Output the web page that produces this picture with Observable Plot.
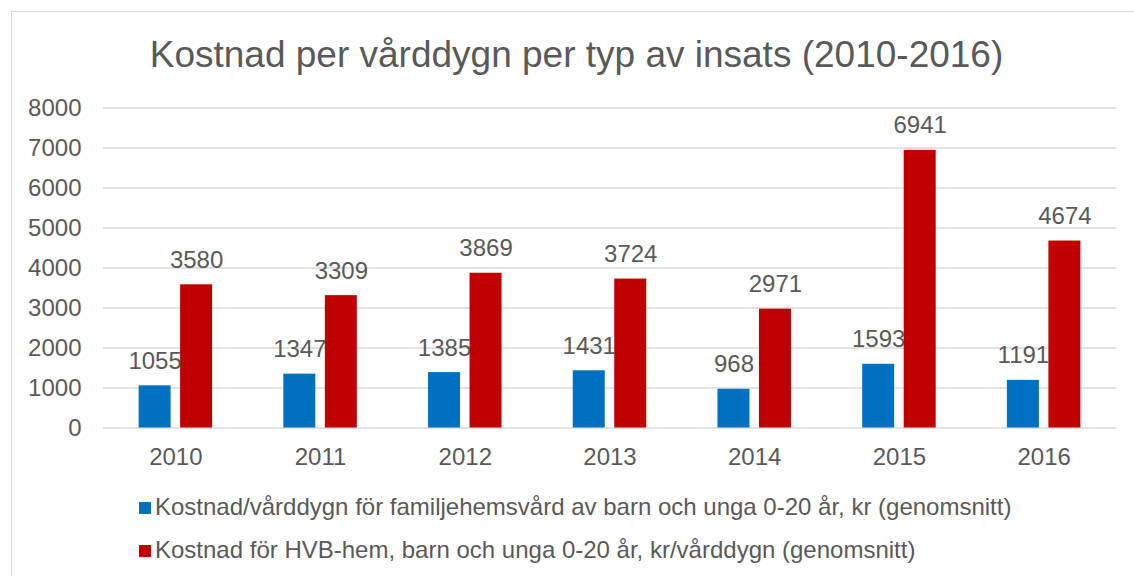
<!DOCTYPE html>
<html>
<head>
<meta charset="utf-8">
<script src="https://cdn.jsdelivr.net/npm/d3@7"></script>
<script src="https://cdn.jsdelivr.net/npm/@observablehq/plot@0.6"></script>
<style>
  html, body { margin: 0; padding: 0; background: #fff; overflow: hidden; width: 1134px; height: 576px; }
  body { position: relative; font-family: "Liberation Sans", Arial, sans-serif; color: #595959; }
  #frame { position: absolute; left: 11px; top: 11px; width: 1300px; height: 800px; border: 1px solid #d9d9d9; box-sizing: border-box; }
  #title { position: absolute; left: 19px; top: 36px; width: 1115px; text-align: center; font-size: 37px; line-height: 37px; color: #595959; white-space: nowrap; }
  #chart { position: absolute; left: 0; top: 90px; }
  .leg { position: absolute; left: 139px; font-size: 24px; line-height: 24px; color: #595959; white-space: nowrap; }
  .leg .sw { display: inline-block; width: 12px; height: 12px; margin-right: 4px; vertical-align: 1px; }
</style>
</head>
<body>
<div id="frame"></div>
<div id="title">Kostnad per vårddygn per typ av insats (2010-2016)</div>
<div id="chart"></div>
<div id="legend"></div>
<script>
const years = ["2010", "2011", "2012", "2013", "2014", "2015", "2016"];
const familjehemValues = [1055, 1347, 1385, 1431, 968, 1593, 1191];
const hvbValues = [3580, 3309, 3869, 3724, 2971, 6941, 4674];
const seriesNames = [
  "Kostnad/vårddygn för familjehemsvård av barn och unga 0-20 år, kr (genomsnitt)",
  "Kostnad för HVB-hem, barn och unga 0-20 år, kr/vårddygn (genomsnitt)"
];
const seriesColors = ["#0070C0", "#C00000"];
const yTicks = [0, 1000, 2000, 3000, 4000, 5000, 6000, 7000, 8000];

const data = years.flatMap((yr, i) => [
  {year: yr, series: seriesNames[0], value: familjehemValues[i]},
  {year: yr, series: seriesNames[1], value: hvbValues[i]}
]);

const font = '"Liberation Sans", Arial, sans-serif';
const chart = Plot.plot({
  width: 1134,
  height: 390,
  marginTop: 17.5,
  marginBottom: 52.5,
  marginLeft: 103,
  marginRight: 18,
  style: {fontFamily: font, fontSize: "24px", color: "#595959", background: "transparent", overflow: "visible"},
  fx: {domain: years, padding: 0, round: false, label: null, axis: null},
  x: {domain: seriesNames, paddingInner: 0.229, paddingOuter: 0.858, round: false, axis: null},
  y: {domain: [0, 8000], axis: null},
  color: {domain: seriesNames, range: seriesColors},
  marks: [
    Plot.gridY(yTicks, {stroke: "#d9d9d9", strokeOpacity: 1, strokeWidth: 1.3}),
    Plot.axisY(yTicks, {tickSize: 0, tickPadding: 22, label: null, fontSize: 24, fill: "#595959", tickFormat: d => String(d)}),
    Plot.axisFx({anchor: "bottom", tickSize: 0, tickPadding: 20, label: null, fontSize: 24, fill: "#595959"}),
    Plot.barY(data, {fx: "year", x: "series", y: "value", fill: "series"}),
    Plot.text(data, {fx: "year", x: "series", y: "value", text: d => String(d.value), dy: -17, lineAnchor: "bottom", fill: "#595959", fontSize: 24})
  ]
});
document.getElementById("chart").appendChild(chart);

const legend = document.getElementById("legend");
seriesNames.forEach((name, i) => {
  const row = document.createElement("div");
  row.className = "leg";
  row.style.top = (495 + i * 43) + "px";
  const sw = document.createElement("span");
  sw.className = "sw";
  sw.style.background = seriesColors[i];
  row.appendChild(sw);
  row.appendChild(document.createTextNode(name));
  legend.appendChild(row);
});
</script>
</body>
</html>
